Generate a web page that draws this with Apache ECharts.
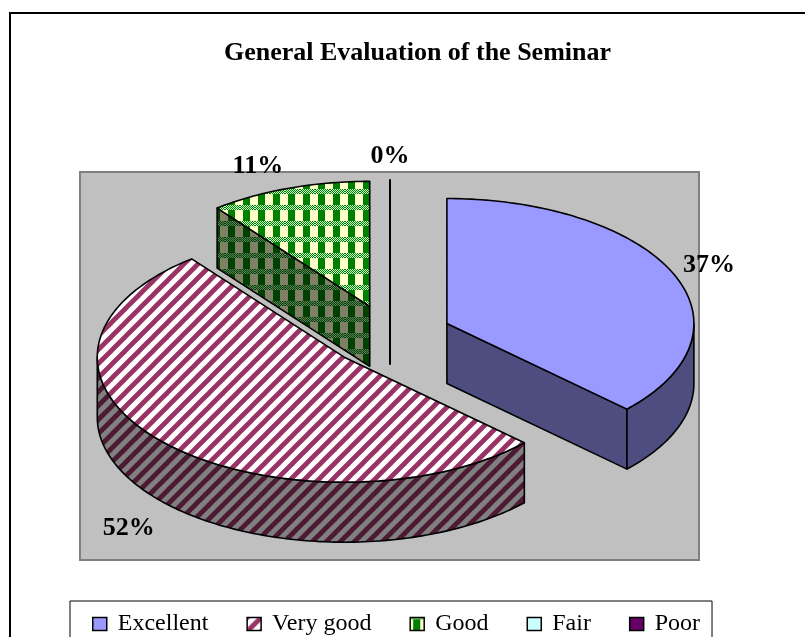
<!DOCTYPE html>
<html><head><meta charset="utf-8">
<style>html,body{margin:0;padding:0;background:#fff}#c{width:805px;height:637px}</style>
<script src="https://cdn.jsdelivr.net/npm/echarts@6/dist/echarts.min.js"></script>
</head><body><div id="c"></div>
<script>
const titleText = 'General Evaluation of the Seminar';
const categories = ['Excellent', 'Very good', 'Good', 'Fair', 'Poor'];
const values = [37, 52.4, 10.6, 0, 0];
const percentLabels = ['37%', '52%', '11%', '0%', ''];

function tile(w, h, draw) {
  const cv = document.createElement('canvas');
  cv.width = w; cv.height = h;
  draw(cv.getContext('2d'), w, h);
  return { image: cv, repeat: 'repeat' };
}
function stripes(bg, fg) {
  return tile(14, 14, (g, w, h) => {
    g.fillStyle = bg; g.fillRect(0, 0, w, h);
    g.strokeStyle = fg; g.lineWidth = 4.8;
    for (let k = -14; k <= 28; k += 14) {
      g.beginPath(); g.moveTo(k - 2, h + 2); g.lineTo(k + h + 2, -2); g.stroke();
    }
  });
}
function checks(bg, fg, dith) {
  return tile(15, 16, (g, w, h) => {
    g.fillStyle = bg; g.fillRect(0, 0, w, h);
    g.fillStyle = fg; g.fillRect(3, 0, 7, h);
    for (let x = 0; x < w; x++) for (let d = 0; d < 5; d++) {
      const y = (13 + d) % h;
      g.fillStyle = (x + d) % 2 === 0 ? fg : dith;
      g.fillRect(x, y, 1, 1);
    }
  });
}
const topFills = ['#9999FF', stripes('#FFFFFF', '#993366'), checks('#FFFFCC', '#008000', '#CCFFCC'), '#CCFFFF', '#660066'];
const sideFills = ['#4D4D80', stripes('#808080', '#4D1A33'), checks('#808066', '#004000', '#668066'), '#668080', '#330033'];

const CX = 390, CY = 336, RX = 247, RY = 125, EXPLODE = 62, DEPTH = 60;
const LABEL_NUDGE = [[-10, 1], [3, 10], [-15, 2], [0, 2], [0, 0]];
const total = values.reduce((a, b) => a + b, 0);

function rimPoint(c, t, dy) { return [c[0] + RX * Math.sin(t), c[1] - RY * Math.cos(t) + (dy || 0)]; }
function arcPts(c, a, b, dy) {
  const n = Math.max(2, Math.ceil(Math.abs(b - a) / 0.02)), out = [];
  for (let i = 0; i <= n; i++) out.push(rimPoint(c, a + (b - a) * i / n, dy));
  return out;
}
const edge = { stroke: '#000', lineWidth: 1.6, lineJoin: 'round' };

function renderSlice(idx, api) {
  const v = api.value(0);
  let before = 0;
  for (let i = 0; i < idx; i++) before += values[i];
  const s = before / total * 2 * Math.PI, e = (before + v) / total * 2 * Math.PI;
  const m = (s + e) / 2;
  const c = [CX + EXPLODE * Math.sin(m), CY - EXPLODE * (RY / RX) * Math.cos(m)];
  const children = [];
  const poly = (pts, fill) => children.push({ type: 'polygon', shape: { points: pts }, style: Object.assign({ fill }, edge) });
  if (v === 0) {
    const top = rimPoint(c, s);
    children.push({ type: 'line', shape: { x1: top[0], y1: top[1], x2: c[0], y2: c[1] + DEPTH }, style: { stroke: '#000', lineWidth: 2 } });
  } else {
    const side = sideFills[idx];
    const cut = t => { const r = rimPoint(c, t); poly([c, r, [r[0], r[1] + DEPTH], [c[0], c[1] + DEPTH]], side); };
    if (Math.sin(s) < -1e-6) cut(s);
    if (Math.sin(e) > 1e-6) cut(e);
    const a = Math.max(s, Math.PI / 2), b = Math.min(e, 1.5 * Math.PI);
    if (b > a) poly(arcPts(c, a, b).concat(arcPts(c, b, a, DEPTH)), side);
    poly([c].concat(arcPts(c, s, e)), topFills[idx]);
  }
  if (percentLabels[idx]) {
    const f = 1.2, lx = c[0] + RX * Math.sin(m) * f, ly = c[1] - RY * Math.cos(m) * f + (Math.cos(m) < 0 ? DEPTH : 0);
    children.push({ type: 'text', z2: 50, style: {
      text: percentLabels[idx], x: lx + LABEL_NUDGE[idx][0], y: ly + LABEL_NUDGE[idx][1],
      align: 'center', verticalAlign: 'middle', fill: '#000',
      font: 'bold 26px "Liberation Serif"' } });
  }
  return { type: 'group', children };
}

const chart = echarts.init(document.getElementById('c'), null, { renderer: 'canvas' });
chart.setOption({
  animation: false,
  backgroundColor: '#fff',
  title: { text: titleText, left: 412.5, textAlign: 'center', top: 35,
    textStyle: { fontFamily: 'Liberation Serif', fontWeight: 'bold', fontSize: 26, color: '#000' } },
  legend: {
    left: 70, top: 601, orient: 'horizontal', icon: 'rect',
    itemWidth: 14, itemHeight: 13, itemGap: 38,
    padding: [11, 12, 30, 22], borderColor: '#000', borderWidth: 1, backgroundColor: '#fff',
    selectedMode: false,
    textStyle: { fontFamily: 'Liberation Serif', fontSize: 24, color: '#000', padding: [0, 0, 0, 6] },
    itemStyle: { borderColor: '#000', borderWidth: 1.5 },
    data: categories
  },
  graphic: [
    { type: 'rect', z: -10, shape: { x: 10, y: 13, width: 900, height: 700 }, style: { fill: '#fff', stroke: '#000', lineWidth: 2 } },
    { type: 'rect', z: -9, shape: { x: 80, y: 172, width: 619, height: 388 }, style: { fill: '#C0C0C0', stroke: '#808080', lineWidth: 2 } }
  ],
  series: categories.map((name, i) => ({
    type: 'custom', name, coordinateSystem: 'none', silent: true,
    itemStyle: { color: topFills[i] },
    data: [[values[i]]],
    renderItem: (params, api) => renderSlice(i, api)
  }))
});
</script></body></html>
